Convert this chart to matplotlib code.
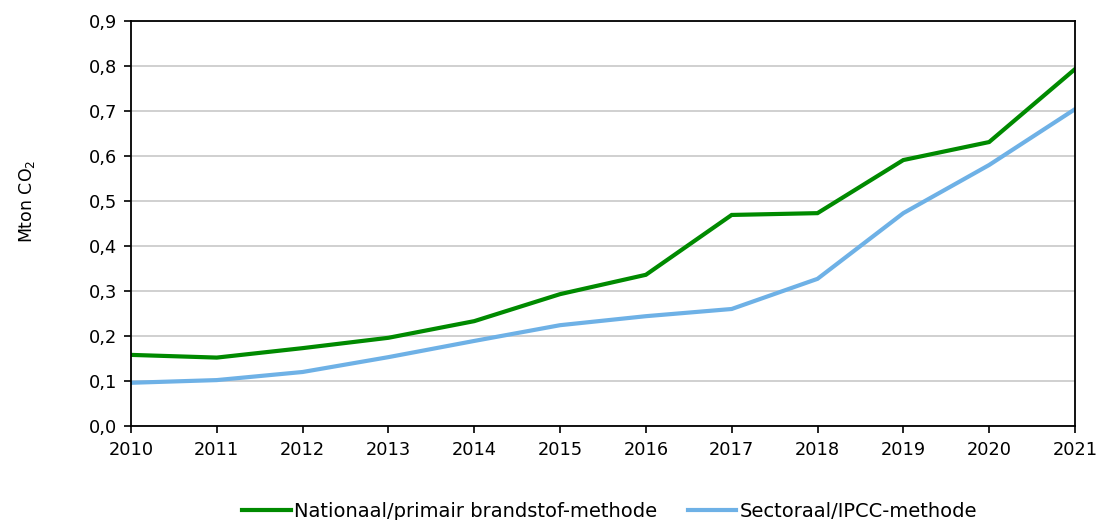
import matplotlib
matplotlib.use('Agg')
import matplotlib.pyplot as plt
import matplotlib.ticker as ticker

years = [2010, 2011, 2012, 2013, 2014, 2015, 2016, 2017, 2018, 2019, 2020, 2021]
nationaal = [0.158, 0.152, 0.173, 0.196, 0.233, 0.293, 0.336, 0.469, 0.473, 0.591, 0.631, 0.793]
sectoraal = [0.096, 0.102, 0.120, 0.153, 0.189, 0.224, 0.244, 0.260, 0.327, 0.473, 0.580, 0.704]
labels = ['Nationaal/primair brandstof-methode', 'Sectoraal/IPCC-methode']
colors = ['#008A00', '#6EB1E6']

plt.rcParams['font.family'] = ['DejaVu Sans']

fig = plt.figure(figsize=(10.98, 5.2), dpi=100)
ax = fig.add_axes([0.1193, 0.1808, 0.8597, 0.7788])

ax.plot(years, nationaal, color=colors[0], linewidth=3, label=labels[0], solid_joinstyle='miter')
ax.plot(years, sectoraal, color=colors[1], linewidth=3, label=labels[1], solid_joinstyle='miter')

ax.set_xlim(2010, 2021)
ax.set_ylim(0, 0.9)
ax.set_xticks(years)
ax.set_yticks([i / 10 for i in range(10)])
ax.yaxis.set_major_formatter(ticker.FuncFormatter(lambda v, p: f'{v:.1f}'.replace('.', ',')))
ax.grid(axis='y', color='#C8C8C8', linewidth=1.2)
ax.set_axisbelow(True)
for s in ax.spines.values():
    s.set_color('black')
    s.set_linewidth(1.3)
ax.tick_params(axis='both', direction='out', length=5, width=1.2, labelsize=12.8, colors='black')
ax.tick_params(axis='x', pad=6)
ax.tick_params(axis='y', pad=5)

ax.set_ylabel('Mton CO$_2$', fontsize=12.5)
ax.yaxis.set_label_coords(-0.1, 0.556)

fig.legend(loc='center', bbox_to_anchor=(0.555, 0.017), ncol=2, frameon=False,
           fontsize=14, handlelength=2.5, handletextpad=0.15, columnspacing=1.6)

fig.savefig('out.png', dpi=100)
